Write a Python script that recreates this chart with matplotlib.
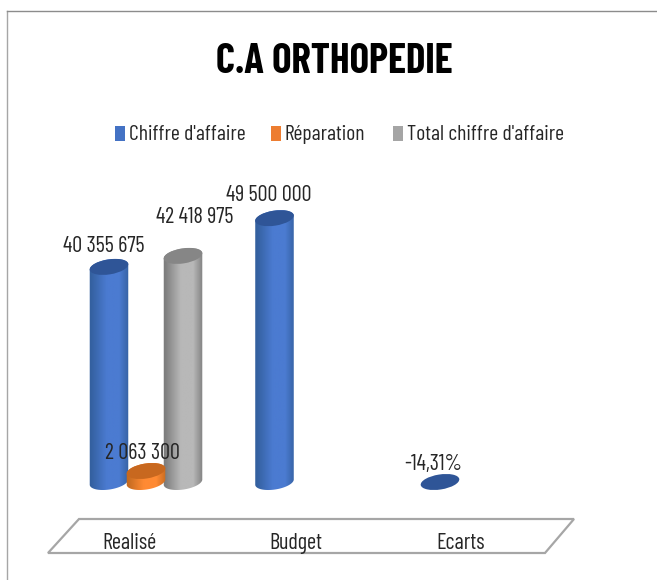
import numpy as np
import matplotlib
matplotlib.use("Agg")
import matplotlib.pyplot as plt
from matplotlib.colors import LinearSegmentedColormap
from matplotlib.patches import PathPatch, Ellipse, Polygon, Rectangle
from matplotlib.path import Path
from matplotlib.transforms import Affine2D, ScaledTranslation, IdentityTransform

W, H = 657, 580
categories = ["Realisé", "Budget", "Ecarts"]
series_names = ["Chiffre d'affaire", "Réparation", "Total chiffre d'affaire"]
chiffre = [40355675, 49500000, -0.1431]
reparation = [2063300, None, None]
total = [42418975, None, None]
labels_chiffre = ["40 355 675", "49 500 000", "-14,31%"]
labels_reparation = ["2 063 300", None, None]
labels_total = ["42 418 975", None, None]
title = "C.A ORTHOPEDIE"

FONT = ["Barlow Condensed", "Liberation Sans", "DejaVu Sans"]
plt.rcParams["font.family"] = FONT

fig = plt.figure(figsize=(W / 100, H / 100), dpi=100, facecolor="white")
bg = fig.add_axes([0, 0, 1, 1])
bg.set_xlim(0, W); bg.set_ylim(H, 0); bg.axis("off")

# plot axes: x=category index, y=value; y=0 at pixel 482, 5.33 px per million
L, R = 146 - 165.5 * 0.5, 477 + 165.5 * 0.5
base_px, low_px, top_px = 482, 505, 170
PX = 5.33e-6
ax = fig.add_axes([L / W, 1 - low_px / H, (R - L) / W, (low_px - top_px) / H])
XLIM = (-0.5, 2.5)
YLIM = (-(low_px - base_px) / PX, (base_px - top_px) / PX)
ax.set_xlim(*XLIM)
ax.set_ylim(*YLIM)
ax.patch.set_alpha(0)
ax.axis("off")
fig.canvas.draw()

OFF = 0.2236
BW = 38 / 165.5
RX, RY, TILT = 19.5, 7.5, 9

styles = {
    "blue": dict(edge="#34609f", mid="#4b7bd1", top="#2f5597", legend="#4472c4"),
    "orange": dict(edge="#c46a20", mid="#ff8a33", top="#c8681f", legend="#ed7d31"),
    "gray": dict(edge="#7d7d7d", mid="#b8b8b8", top="#868686", legend="#a5a5a5"),
}


def ell_pts(cx, cy, t):
    a = np.deg2rad(TILT)
    x = RX * np.cos(t)
    y = RY * np.sin(t)
    return cx + x * np.cos(a) - y * np.sin(a), cy + x * np.sin(a) + y * np.cos(a)


def cylinder(i, off, v, st, z):
    x = i + off * OFF
    if v > 1000:
        (cx, y0), (_, y1) = ax.transData.transform([(x, 0), (x, v)])
        t_low = np.linspace(np.pi, 2 * np.pi, 40)
        t_top = np.linspace(0, np.pi, 40)
        bx, by = ell_pts(cx, y0, t_low)
        tx, ty = ell_pts(cx, y1, t_top)
        verts = np.column_stack([np.r_[bx, tx], np.r_[by, ty]])
        verts = np.vstack([verts, verts[0]])
        clip = PathPatch(Path(verts), transform=IdentityTransform(), fc="none", ec="none")
        ax.add_patch(clip)
        cmap = LinearSegmentedColormap.from_list(
            "c", [(0, st["edge"]), (0.06, st["edge"]), (0.45, st["mid"]), (0.75, st["mid"]), (1, st["edge"])])
        im = ax.imshow(np.linspace(0, 1, 64)[None, :], cmap=cmap, aspect="auto",
                       extent=(x - BW * 0.55, x + BW * 0.55, YLIM[0], v + 2.0e6),
                       zorder=z, interpolation="bilinear")
        im.set_clip_path(clip)
    tr = Affine2D() + ScaledTranslation(x, v if v > 1000 else 0, ax.transData)
    ax.add_patch(Ellipse((0, 0), 2 * RX, 2 * RY, angle=TILT, fc=st["top"], ec="none",
                         transform=tr, zorder=z + 0.5))


order = [(chiffre, -1, "blue", 2), (total, 1, "gray", 2), (reparation, 0, "orange", 3)]
for vals, off, key, z in order:
    for i, v in enumerate(vals):
        if v is not None:
            cylinder(i, off, v, styles[key], z)
ax.set_xlim(*XLIM)
ax.set_ylim(*YLIM)

# value labels
TXT = "#262626"
label_dx = {(0, -1): -0.03, (1, -1): -0.032, (2, -1): -0.041, (0, 1): 0.068, (0, 0): -0.024}
label_dy = {(0, -1): 10, (1, -1): 12, (2, -1): 7, (0, 1): 28, (0, 0): 7}
for vals, labs, off in [(chiffre, labels_chiffre, -1), (total, labels_total, 1), (reparation, labels_reparation, 0)]:
    for i, (v, s) in enumerate(zip(vals, labs)):
        if v is None:
            continue
        x = i + off * OFF + label_dx[(i, off)]
        ax.annotate(s, (x, max(v, 0)), xytext=(0, label_dy[(i, off)]), textcoords="offset pixels",
                    ha="center", va="bottom", fontsize=16, color=TXT, zorder=6, annotation_clip=False)

# frame
bg.plot([7, 7], [580, 11], color="#a6a6a6", lw=1)
bg.plot([7, 657], [11, 11], color="#8c8c8c", lw=1)

# floor
bg.add_patch(Polygon([(79, 519), (574, 519), (545, 553), (48, 553)], closed=True,
                     fc="white", ec="#a6a6a6", lw=1.6))

for i, c in enumerate(categories):
    x = ax.transData.transform((i, 0))[0] - 16
    bg.text(x, 549, c, ha="center", va="baseline", fontsize=16, color=TXT)

bg.text(334, 62, title, ha="center", va="center", fontsize=29.5, fontweight="bold", color="black")

# legend
for sx, tx, name, key in [(115, 129, series_names[0], "blue"), (271, 285, series_names[1], "orange"),
                          (393, 407, series_names[2], "gray")]:
    bg.add_patch(Rectangle((sx, 126), 10, 15, fc=styles[key]["legend"], ec="none"))
    bg.text(tx, 134, name, ha="left", va="center", fontsize=15.6, color=TXT)

fig.savefig("out.png", dpi=100, facecolor="white")
